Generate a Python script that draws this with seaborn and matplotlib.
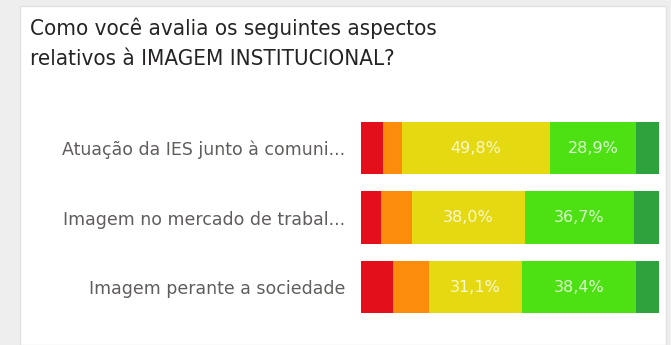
import matplotlib
matplotlib.use("Agg")
import matplotlib.pyplot as plt
from matplotlib.patches import Rectangle
import numpy as np
import pandas as pd
import seaborn as sns

# Survey answers per aspect (percent of respondents)
aspects = [
    "Atuação da IES junto à comuni...",
    "Imagem no mercado de trabal...",
    "Imagem perante a sociedade",
]
ruim = [7.4, 6.7, 10.6]
regular_baixo = [6.3, 10.3, 12.2]
regular = [49.8, 38.0, 31.1]
bom = [28.9, 36.7, 38.4]
otimo = [7.6, 8.3, 7.7]

series = [ruim, regular_baixo, regular, bom, otimo]
colors = ["#e30f1a", "#fb8c0c", "#e5d912", "#4de012", "#2ea23c"]
labelled = {2, 3}  # segments that carry value labels

title_lines = ["Como você avalia os seguintes aspectos",
               "relativos à IMAGEM INSTITUCIONAL?"]

sns.set_theme(style="white")
plt.rcParams["font.family"] = ["DejaVu Sans"]

fig = plt.figure(figsize=(6.71, 3.45), dpi=100)
fig.patch.set_facecolor("#eeeeee")

# white card behind everything
card = Rectangle((20 / 671, 0), (666 - 20) / 671, 1 - 6 / 345,
                 transform=fig.transFigure, facecolor="white",
                 edgecolor="#e2e2e2", linewidth=1.0, zorder=-10)
fig.patches.append(card)

ax = fig.add_axes([361 / 671, 1 - 321.75 / 345, (659 - 361) / 671, 0.6043])
ax.set_zorder(5)
ax.set_facecolor("none")

cum = np.cumsum(np.array(series), axis=0)
# draw from the widest cumulative bar down so each segment shows
for i in range(len(series) - 1, -1, -1):
    df = pd.DataFrame({"aspecto": aspects, "valor": cum[i]})
    sns.barplot(data=df, x="valor", y="aspecto", orient="h", color=colors[i],
                width=0.75, saturation=1, ax=ax, linewidth=0)

for i in labelled:
    starts = cum[i] - np.array(series[i])
    for j, v in enumerate(series[i]):
        ax.text(starts[j] + v / 2, j, f"{v:.1f}%".replace(".", ","),
                ha="center", va="center", color="white", alpha=0.8,
                fontsize=11.5)

ax.set_xlim(0, 100)
ax.set_ylim(2.5, -0.5)
ax.set_xlabel("")
ax.set_ylabel("")
ax.set_xticks([])
ax.tick_params(axis="y", length=0, pad=11.5, labelsize=12.5, labelcolor="#605e5c")
for s in ax.spines.values():
    s.set_visible(False)

for k, line in enumerate(title_lines):
    fig.text(30 / 671, 1 - (35 + 30 * k) / 345, line,
             fontsize=16, color="#252423", ha="left", va="baseline",
             fontstretch="condensed", zorder=6)

fig.savefig("out.png", dpi=100, facecolor=fig.get_facecolor())
